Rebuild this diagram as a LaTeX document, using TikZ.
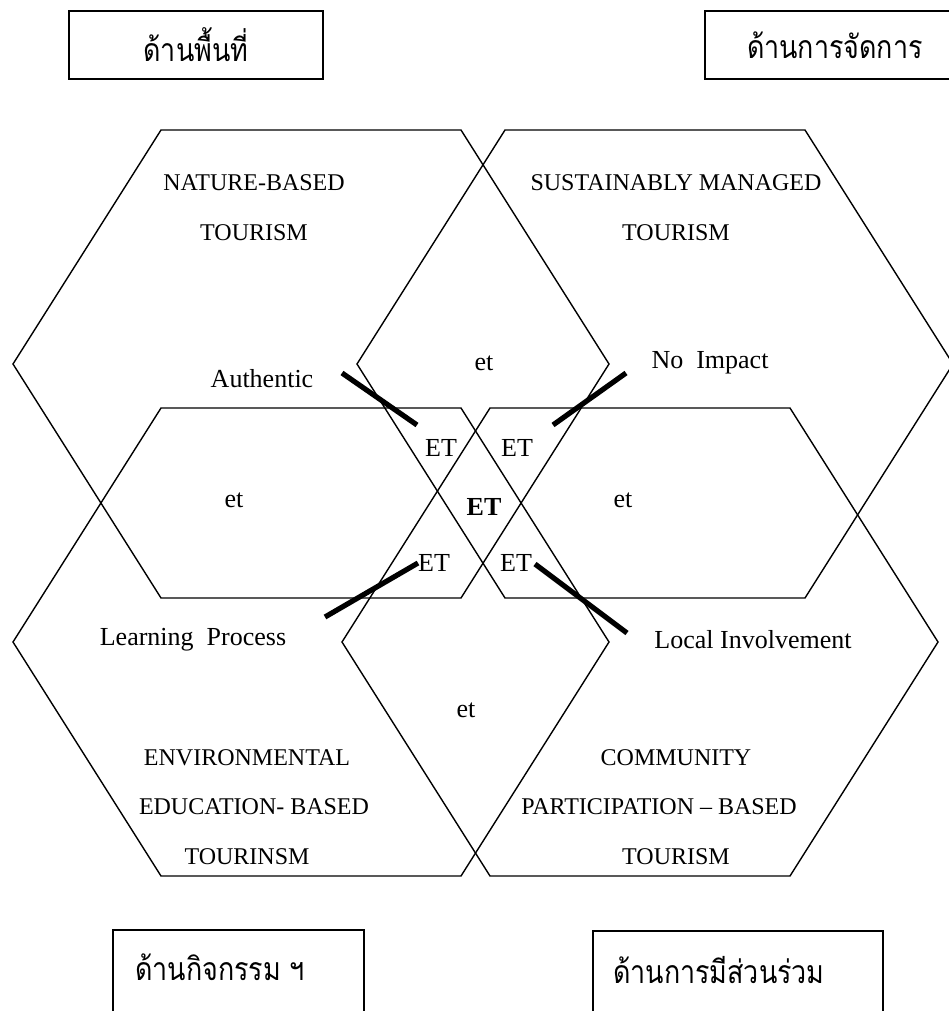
\documentclass[tikz,border=0pt]{standalone}
\usepackage{fontspec}
\setmainfont{Liberation Serif}
\newfontfamily\thaifont[Script=Thai, FakeStretch=0.84]{Loma}

\begin{document}
\begin{tikzpicture}[x=0.5pt, y=-0.5pt,
                    hexline/.style={line width=0.7pt},
                    pointer/.style={line width=2.6pt},
                    caps/.style={font=\fontsize{12}{14}\selectfont},
                    lbl/.style={font=\fontsize{13}{15}\selectfont},
                    sidebox/.style={draw, line width=0.9pt, anchor=north west},
                    side/.style={font=\thaifont\fontsize{16}{18}\selectfont}]
  \useasboundingbox (0,0) rectangle (948,1011);

  % the four hexagons
  \foreach \cx/\cy in {311/364, 655/364, 311/642, 640/642}
    \draw[hexline] (\cx-298,\cy) -- (\cx-150,\cy-234) -- (\cx+150,\cy-234)
      -- (\cx+298,\cy) -- (\cx+150,\cy+234) -- (\cx-150,\cy+234) -- cycle;

  % side boxes
  \node[sidebox, side, minimum width=127pt, minimum height=34pt] (areabox) at (68,10) {ด้านพื้นที่};
  \node[sidebox, side, minimum width=130pt, minimum height=34pt] (managebox) at (704,10) {ด้านการจัดการ};
  \node[sidebox, minimum width=125.5pt, minimum height=60pt] (actbox) at (112,929) {};
  \node[side, anchor=west] (acttext) at (128,967) {ด้านกิจกรรม ฯ};
  \node[sidebox, minimum width=145pt, minimum height=60pt] (partbox) at (592,930) {};
  \node[side, anchor=west] (parttext) at (606,970) {ด้านการมีส่วนร่วม};

  % hexagon titles
  \node[caps] (natureA) at (254,183) {NATURE-BASED};
  \node[caps] (natureB) at (254,233) {TOURISM};
  \node[caps] (manageA) at (676,183) {SUSTAINABLY MANAGED};
  \node[caps] (manageB) at (676,233) {TOURISM};
  \node[caps] (eduA) at (247,758) {ENVIRONMENTAL};
  \node[caps] (eduB) at (254,807) {EDUCATION- BASED};
  \node[caps] (eduC) at (247,857) {TOURINSM};
  \node[caps] (commA) at (676,758) {COMMUNITY};
  \node[caps] (commB) at (659,807) {PARTICIPATION -- BASED};
  \node[caps] (commC) at (676,857) {TOURISM};

  % overlaps
  \node[lbl] (etTop) at (484,363) {et};
  \node[lbl] (etLeft) at (234,500) {et};
  \node[lbl] (etRight) at (623,500) {et};
  \node[lbl] (etBottom) at (466,710) {et};
  \node[lbl] (etNW) at (441,448) {ET};
  \node[lbl] (etNE) at (517,448) {ET};
  \node[lbl, font=\fontsize{13}{15}\selectfont\bfseries] (etMid) at (484,507) {ET};
  \node[lbl] (etSW) at (434,563) {ET};
  \node[lbl] (etSE) at (516,563) {ET};

  % corner labels
  \node[lbl] (authentic) at (262,379) {Authentic};
  \node[lbl] (noimpact) at (710,363) {No\ \ Impact};
  \node[lbl] (learning) at (193,640) {Learning\ \ Process};
  \node[lbl] (local) at (753,640) {Local Involvement};

  % pointer bars
  \coordinate (authEnd) at (342,373);
  \coordinate (authTip) at (417,425);
  \coordinate (impEnd) at (626,373);
  \coordinate (impTip) at (553,425);
  \coordinate (learnEnd) at (325,617);
  \coordinate (learnTip) at (418,563);
  \coordinate (localEnd) at (627,633);
  \coordinate (localTip) at (535,564);
  \draw[pointer] (authEnd) -- (authTip);
  \draw[pointer] (impEnd) -- (impTip);
  \draw[pointer] (learnEnd) -- (learnTip);
  \draw[pointer] (localEnd) -- (localTip);
\end{tikzpicture}
\end{document}
